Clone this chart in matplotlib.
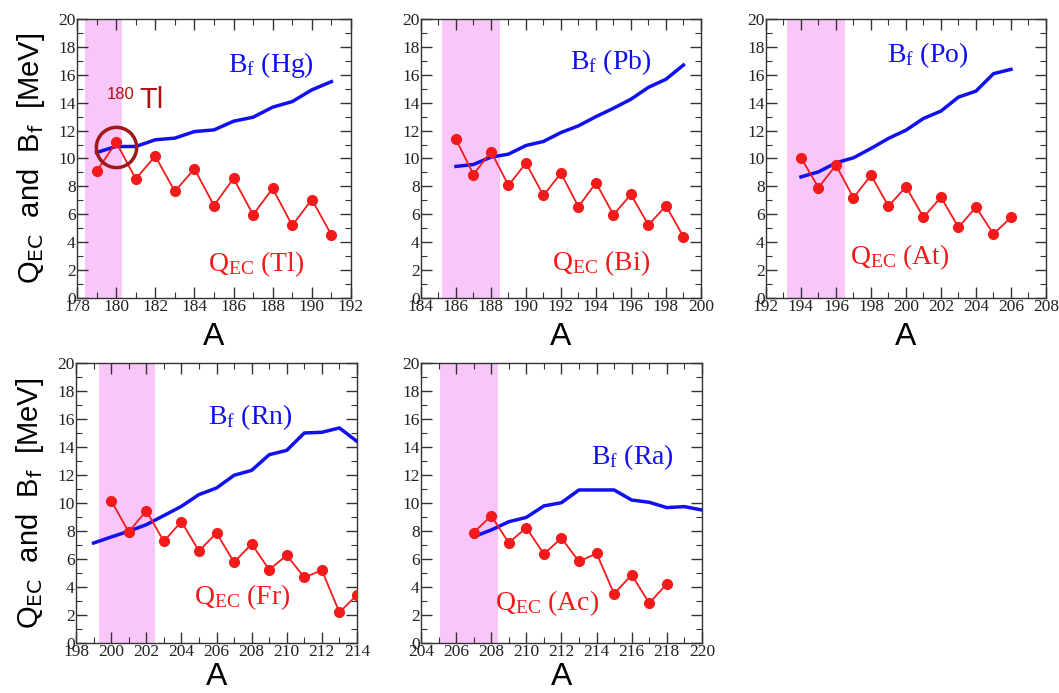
import matplotlib
matplotlib.use("Agg")
import matplotlib.pyplot as plt
from matplotlib.ticker import MultipleLocator

plt.rcParams['mathtext.fontset'] = 'custom'
plt.rcParams['mathtext.rm'] = 'Liberation Serif'
plt.rcParams['mathtext.it'] = 'Liberation Serif:italic'

# Q_EC of odd-Z parents (red dots) and fission barriers B_f of daughters (blue)
A_TL = [179, 180, 181, 182, 183, 184, 185, 186, 187, 188, 189, 190, 191]
Q_TL = [9.07, 11.17, 8.54, 10.17, 7.64, 9.26, 6.63, 8.57, 5.97, 7.85, 5.2, 7.06, 4.53]
A_HG = [179, 180, 181, 182, 183, 184, 185, 186, 187, 188, 189, 190, 191]
B_HG = [10.43, 10.86, 10.86, 11.34, 11.46, 11.93, 12.05, 12.67, 12.96, 13.68, 14.08, 14.92, 15.51]

A_BI = [186, 187, 188, 189, 190, 191, 192, 193, 194, 195, 196, 197, 198, 199]
Q_BI = [11.38, 8.85, 10.5, 8.07, 9.67, 7.35, 8.95, 6.54, 8.26, 5.97, 7.42, 5.23, 6.61, 4.39]
A_PB = [186, 187, 188, 189, 190, 191, 192, 193, 194, 195, 196, 197, 198, 199]
B_PB = [9.43, 9.57, 10.1, 10.31, 10.93, 11.22, 11.86, 12.34, 13.0, 13.6, 14.25, 15.1, 15.68, 16.7]

A_AT = [194, 195, 196, 197, 198, 199, 200, 201, 202, 203, 204, 205, 206]
Q_AT = [10.05, 7.92, 9.52, 7.18, 8.8, 6.58, 7.97, 5.79, 7.22, 5.07, 6.51, 4.59, 5.77]
A_PO = [194, 195, 196, 197, 198, 199, 200, 201, 202, 203, 204, 205, 206]
B_PO = [8.68, 9.04, 9.69, 10.05, 10.72, 11.44, 12.03, 12.87, 13.4, 14.4, 14.83, 16.08, 16.39]

A_FR = [200, 201, 202, 203, 204, 205, 206, 207, 208, 209, 210, 211, 212, 213, 214]
Q_FR = [10.17, 7.93, 9.45, 7.26, 8.67, 6.57, 7.86, 5.76, 7.07, 5.24, 6.26, 4.69, 5.19, 2.19, 3.43]
A_RN = [199, 200, 201, 202, 203, 204, 205, 206, 207, 208, 209, 210, 211, 212, 213, 214]
B_RN = [7.14, 7.57, 7.98, 8.45, 9.1, 9.76, 10.6, 11.07, 11.98, 12.33, 13.45, 13.76, 15.0, 15.05, 15.36, 14.4]

A_AC = [207, 208, 209, 210, 211, 212, 213, 214, 215, 216, 217, 218]
Q_AC = [7.88, 9.09, 7.16, 8.23, 6.35, 7.49, 5.82, 6.4, 3.51, 4.87, 2.84, 4.22]
A_RA = [207, 208, 209, 210, 211, 212, 213, 214, 215, 216, 217, 218, 219, 220]
B_RA = [7.59, 8.07, 8.66, 8.97, 9.79, 10.02, 10.93, 10.93, 10.93, 10.21, 10.05, 9.67, 9.74, 9.5]

PARENTS = ["Tl", "Bi", "At", "Fr", "Ac"]
DAUGHTERS = ["Hg", "Pb", "Po", "Rn", "Ra"]
X_RANGES = [(178, 192), (184, 200), (192, 208), (198, 214), (204, 220)]
SHADES = [(178.4, 180.3), (185.2, 188.5), (193.2, 196.5), (199.3, 202.5), (205.1, 208.4)]

panels = [
    (A_TL, Q_TL, A_HG, B_HG),
    (A_BI, Q_BI, A_PB, B_PB),
    (A_AT, Q_AT, A_PO, B_PO),
    (A_FR, Q_FR, A_RN, B_RN),
    (A_AC, Q_AC, A_RA, B_RA),
]

# axes boxes [left, bottom, width, height] in figure fractions
boxes = [
    [0.0727, 0.570, 0.2587, 0.4026],
    [0.3975, 0.570, 0.2644, 0.4026],
    [0.7233, 0.570, 0.2644, 0.4026],
    [0.0718, 0.0722, 0.2653, 0.404],
    [0.3975, 0.0722, 0.2653, 0.404],
]

# label anchors (x, y) in data coords
bf_pos = [(185.7, 16.7), (192.5, 16.9), (198.9, 17.4), (205.5, 16.1), (213.7, 13.3)]
qec_pos = [(184.7, 2.4), (191.5, 2.5), (196.8, 2.95), (204.7, 3.3), (208.2, 2.85)]

fig = plt.figure(figsize=(10.59, 6.93), dpi=100)

for i, (aq, q, ab, b) in enumerate(panels):
    ax = fig.add_axes(boxes[i])
    x0, x1 = X_RANGES[i]
    ax.set_xlim(x0, x1)
    ax.set_ylim(0, 20)
    ax.axvspan(SHADES[i][0], SHADES[i][1], color='#f9c6f9', lw=0, zorder=0)
    ax.plot(ab, b, color='#1010f0', lw=2.5, zorder=3)
    ax.plot(aq, q, color='#f21a1a', lw=1.3, marker='o', ms=7, zorder=4)

    ax.xaxis.set_major_locator(MultipleLocator(2))
    ax.xaxis.set_minor_locator(MultipleLocator(1))
    ax.yaxis.set_major_locator(MultipleLocator(2))
    ax.yaxis.set_minor_locator(MultipleLocator(1))
    ax.tick_params(which='both', direction='in', top=True, right=True,
                   colors='#333333', labelcolor='#222222')
    ax.tick_params(which='major', length=8, width=1.0, labelsize=12.5, pad=1)
    ax.tick_params(which='minor', length=4, width=0.8)
    for lab in ax.get_xticklabels() + ax.get_yticklabels():
        lab.set_family('Liberation Serif')
    for sp in ax.spines.values():
        sp.set_color('#333333')
        sp.set_linewidth(1.0)

    ax.text(bf_pos[i][0], bf_pos[i][1], r"B$_{\rm f}$ (" + DAUGHTERS[i] + ")",
            color='#1010f0', fontsize=20, family='Liberation Serif', va='center')
    ax.text(qec_pos[i][0], qec_pos[i][1], r"Q$_{\rm EC}$ (" + PARENTS[i] + ")",
            color='#f21a1a', fontsize=20, family='Liberation Serif', va='center')

    ax.set_xlabel("A", family='Liberation Sans', fontsize=23,
                  labelpad=5 if i < 3 else 1)
    if i in (0, 3):
        ax.set_ylabel(r"Q$_{\mathsf{EC}}$  and  B$_{\mathsf{f}}$  [MeV]",
                      family='Liberation Sans', fontsize=21, labelpad=8)

    if i == 0:
        # highlight 180Tl
        ax.plot([180], [10.85], marker='o', ms=29, mfc='none', mec='#a01818',
                mew=2.5, zorder=5)
        ax.text(179.53, 15.1, "180", color='#b01010', fontsize=12,
                family='Liberation Sans', va='top')
        ax.text(181.2, 13.6, "Tl", color='#b01010', fontsize=21,
                family='Liberation Sans', va='baseline')

fig.savefig("out.png", dpi=100, facecolor='white')
